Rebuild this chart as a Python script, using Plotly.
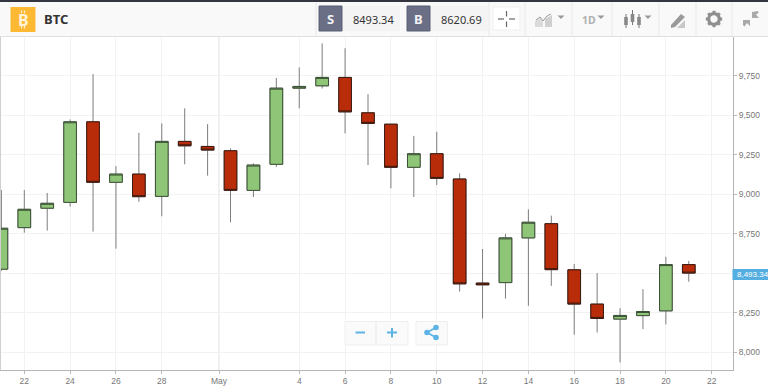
import plotly.graph_objects as go

dates = ["2018-04-%02d" % d for d in range(21, 31)] + ["2018-05-%02d" % d for d in range(1, 22)]
opens = [8525, 8788, 8911, 8948, 9458, 9075, 9127, 8986, 9334, 9302, 9275, 9024, 9189, 9671, 9686, 9739, 9515,
         9443, 9170, 9256, 9096, 8437, 8440, 8723, 8813, 8521, 8304, 8209, 8231, 8261, 8554]
highs = [9026, 9026, 9007, 9473, 9760, 9178, 9388, 9448, 9543, 9443, 9290, 9195, 9736, 9802, 9955, 9924, 9633,
         9443, 9369, 9395, 9132, 8653, 8748, 8904, 8864, 8558, 8500, 8278, 8398, 8603, 8577]
lows = [8513, 8756, 8769, 8921, 8763, 8655, 8952, 8860, 9189, 9117, 8822, 8982, 9172, 9543, 9669, 9385, 9184,
        9037, 8982, 9058, 8383, 8213, 8339, 8293, 8419, 8110, 8124, 7935, 8146, 8175, 8445]
closes = [8784, 8904, 8942, 9458, 9075, 9127, 8984, 9334, 9306, 9279, 9024, 9184, 9671, 9682, 9739, 9521, 9448,
          9170, 9256, 9100, 8432, 8426, 8723, 8822, 8522, 8304, 8213, 8232, 8257, 8554, 8500]

x_tick_vals = ["2018-04-22", "2018-04-24", "2018-04-26", "2018-04-28", "2018-04-30 12:00", "2018-05-04", "2018-05-06",
               "2018-05-08", "2018-05-10", "2018-05-12", "2018-05-14", "2018-05-16", "2018-05-18", "2018-05-20", "2018-05-22"]
x_tick_text = ["22", "24", "26", "28", "May", "4", "6", "8", "10", "12", "14", "16", "18", "20", "22"]
y_tick_vals = [8000, 8250, 8500, 8750, 9000, 9250, 9500, 9750]
y_tick_text = ["8,000", "8,250", "", "8,750", "9,000", "9,250", "9,500", "9,750"]
sell_price = "8493.34"
buy_price = "8620.69"
last_label = "8,493.34"

W, H = 768, 390
L, R, T, B = 0, 35, 37, 20
GREEN, RED = "#8fc577", "#b92c0a"
BLUE = "#5db3e6"
ICON = "#a9a9a9"


def px(x):
    return (x - L) / (W - L - R)


def py(y):
    return 1 - (y - T) / (H - T - B)


def path(points, close=True):
    s = "M" + " L".join("%.5f,%.5f" % (px(a), py(b)) for a, b in points)
    return s + (" Z" if close else "")


shapes = []
annotations = []


def rect(x0, y0, x1, y1, fill, line=None, layer="above"):
    shapes.append(dict(type="rect", xref="paper", yref="paper", x0=px(x0), x1=px(x1), y0=py(y0), y1=py(y1),
                       fillcolor=fill, line=dict(color=line or fill, width=1 if line else 0), layer=layer))


def seg(x0, y0, x1, y1, color, width=1):
    shapes.append(dict(type="line", xref="paper", yref="paper", x0=px(x0), x1=px(x1), y0=py(y0), y1=py(y1),
                       line=dict(color=color, width=width), layer="above"))


def poly(points, fill):
    shapes.append(dict(type="path", xref="paper", yref="paper", path=path(points), fillcolor=fill,
                       line=dict(width=0), layer="above"))


def circle(cx, cy, r, fill, line=None, lw=0):
    shapes.append(dict(type="circle", xref="paper", yref="paper", x0=px(cx - r), x1=px(cx + r),
                       y0=py(cy + r), y1=py(cy - r), fillcolor=fill, line=dict(color=line or fill, width=lw),
                       layer="above"))


def text(x, y, s, size, color, family="Roboto", anchor="left"):
    annotations.append(dict(xref="paper", yref="paper", x=px(x), y=py(y), text=s, showarrow=False,
                            xanchor=anchor, yanchor="middle", borderpad=0,
                            font=dict(size=size, color=color, family=family)))


# May divider in data coordinates
shapes.append(dict(type="line", xref="x", yref="paper", x0="2018-04-30 12:00", x1="2018-04-30 12:00", y0=0, y1=1,
                   line=dict(color="#dcdcdc", width=1), layer="below"))
seg(0.5, 37, 0.5, 370, "#d0d0d0", 1)

# Header
rect(0, 0, 768, 36.5, "#f9f9f9")
rect(0, 0, 768, 2, "#33363f")
seg(0, 36.5, 768, 36.5, "#e0e0e0", 1)
rect(10.5, 7, 35.5, 32, "#fdb933")
text(23, 20, "<b>B</b>", 16, "#fff3d8", "Noto Sans", "center")
seg(21.5, 10.5, 21.5, 13, "#fff3d8", 1.2)
seg(24.5, 10.5, 24.5, 13, "#fff3d8", 1.2)
seg(21.5, 26, 21.5, 28.5, "#fff3d8", 1.2)
seg(24.5, 26, 24.5, 28.5, "#fff3d8", 1.2)
text(43, 19, "<b>BTC</b>", 13, "#333333", "Noto Sans")
for sx in (316, 489, 525, 572, 612, 659, 696, 732):
    seg(sx, 2, sx, 36, "#e9e9e9", 1)
rect(342, 6, 400, 31, "#f4f4f4")
rect(430, 6, 488, 31, "#f4f4f4")
rect(319, 6, 342, 31, "#6b6f85", "#5a5e72")
rect(407, 6, 430, 31, "#6b6f85", "#5a5e72")
text(330.5, 19, "<b>S</b>", 13, "#f2f2f5", "Noto Sans", "center")
text(418.5, 19, "<b>B</b>", 13, "#f2f2f5", "Noto Sans", "center")
text(395.5, 19, sell_price, 11, "#333333", "Noto Sans", "right")
text(483.5, 19, buy_price, 11, "#333333", "Noto Sans", "right")
rect(493, 7, 520, 30, "#ffffff", "#efefef")
for a, b, c, d in ((498, 19, 504, 19), (509, 19, 515, 19), (506.5, 11, 506.5, 16.5), (506.5, 21.5, 506.5, 27)):
    seg(a, b, c, d, "#666666", 1.2)

# Chart type icon
poly([(535, 27), (535, 21), (540, 18), (543, 22), (543, 27)], "#dadada")
poly([(545, 27), (545, 19), (552, 15), (552, 27)], "#d0d0d0")
for a, b, c, d in ((536, 20, 540, 17), (540, 17, 543, 21), (543, 21, 547, 16), (547, 16, 551, 14)):
    seg(a, b, c, d, "#999999", 1)
for tx in (561, 601, 648):
    poly([(tx - 3.5, 15.5), (tx + 3.5, 15.5), (tx, 19)], "#9a9a9a")
text(581, 19.5, "<b>1D</b>", 10.5, "#b0b0b0", "Noto Sans")
# Candle icon
for cx, c0, c1, h0, h1 in ((626, 17, 25, 14, 28), (632.5, 14, 22, 10, 25), (639, 17, 25, 14, 28)):
    seg(cx, h0, cx, h1, "#777777", 1)
    rect(cx - 1.8, c0, cx + 1.8, c1, "#888888")
# Pencil icon
poly([(671, 25), (681, 14), (685, 17), (675, 27), (671, 28)], "#9a9a9a")
poly([(677, 28), (685, 20), (685, 28)], "#c8c8c8")
# Gear
circle(714, 19, 5.3, "#f9f9f9", "#8f8f8f", 3.2)
for a, b, c, d in ((714, 10.8, 714, 13.5), (714, 24.5, 714, 27.2), (705.8, 19, 708.5, 19), (719.5, 19, 722.2, 19),
                   (708.2, 13.2, 710, 15), (718, 23, 719.8, 24.8), (719.8, 13.2, 718, 15), (710, 23, 708.2, 24.8)):
    seg(a, b, c, d, "#8f8f8f", 3)
# Collapse arrows
poly([(752, 12), (758, 11), (758.5, 13), (756, 14.5), (759, 18), (752, 18)], ICON)
poly([(743, 20), (750, 20), (750, 26), (747, 23), (744.5, 26.5), (743, 25)], ICON)

# Zoom buttons
rect(345, 321.5, 408, 345, "#fafafa", "#efefef")
seg(376, 321.5, 376, 345, "#e8e8e8", 1)
rect(416, 321.5, 447.5, 345, "#fafafa", "#efefef")
seg(355.5, 332.5, 365, 332.5, BLUE, 2)
seg(387, 332.5, 397, 332.5, BLUE, 2)
seg(392, 328, 392, 337.5, BLUE, 2)
seg(427, 332.5, 436, 327.5, BLUE, 1.6)
seg(427, 332.5, 436, 337.5, BLUE, 1.6)
circle(427, 332.5, 2.8, BLUE)
circle(436, 327.5, 2.8, BLUE)
circle(436, 337.5, 2.8, BLUE)

# Last price label
rect(732.5, 269, 768, 280, "#55aee0")
text(735.5, 274.7, last_label, 8, "#ffffff", "Liberation Sans")

body_high = [max(o, c) for o, c in zip(opens, closes)]
body_low = [min(o, c) for o, c in zip(opens, closes)]

fig = go.Figure()
fig.add_trace(go.Candlestick(x=dates, open=opens, high=highs, low=lows, close=closes, whiskerwidth=0,
                             increasing=dict(line=dict(color="#7d7d7d", width=1), fillcolor=GREEN),
                             decreasing=dict(line=dict(color="#7d7d7d", width=1), fillcolor=RED),
                             showlegend=False))
fig.add_trace(go.Candlestick(x=dates, open=opens, high=body_high, low=body_low, close=closes, whiskerwidth=0,
                             increasing=dict(line=dict(color="#3c5238", width=1), fillcolor=GREEN),
                             decreasing=dict(line=dict(color="#3a1a10", width=1), fillcolor=RED),
                             showlegend=False))

fig.update_layout(
    width=W, height=H, margin=dict(l=L, r=R, t=T, b=B), paper_bgcolor="#ffffff", plot_bgcolor="#ffffff",
    boxgap=0.21, showlegend=False, shapes=shapes, annotations=annotations,
    font=dict(family="Liberation Sans", size=8.5, color="#777777"),
    xaxis=dict(type="date", range=["2018-04-20 22:33", "2018-05-22 22:19"], rangeslider=dict(visible=False),
               tickmode="array", tickvals=x_tick_vals, ticktext=x_tick_text, ticks="outside", ticklen=3,
               tickcolor="#bbbbbb", showgrid=True, gridcolor="#f2f2f2", gridwidth=1, showline=True,
               linecolor="#b4b4b4", linewidth=1, zeroline=False),
    yaxis=dict(side="right", range=[7886.6, 9995], tickmode="array", tickvals=y_tick_vals, ticktext=y_tick_text,
               ticks="outside", ticklen=3, tickcolor="#bbbbbb", showgrid=True, gridcolor="#f2f2f2", gridwidth=1,
               showline=True, linecolor="#b4b4b4", linewidth=1, zeroline=False),
)

fig.write_html("out.html", config=dict(displayModeBar=False),
               post_script="document.body.style.margin='0';document.body.style.overflow='hidden';")
